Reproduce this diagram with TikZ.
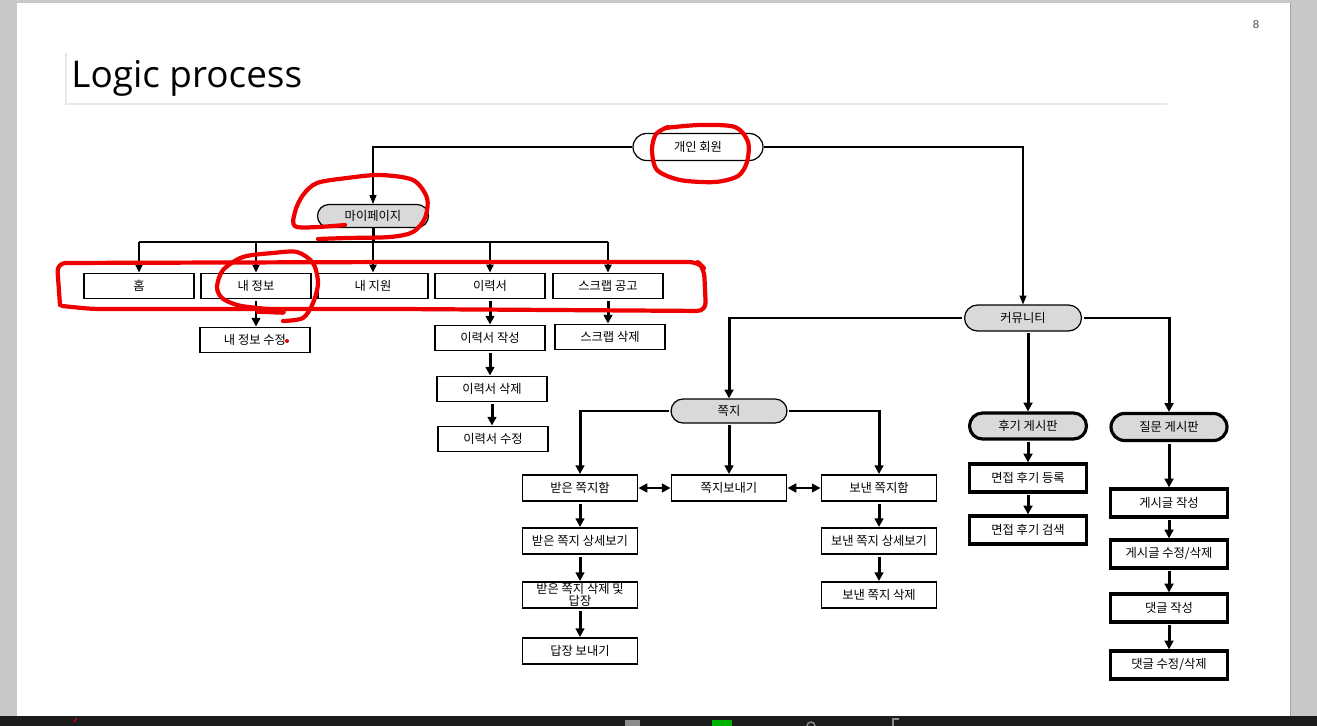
\documentclass[tikz,border=0pt]{standalone}
\usepackage{fontspec}
\newfontfamily\kr{Noto Sans CJK KR}
\newfontfamily\titlefont{Open Sans}
\newfontfamily\numfont{Liberation Sans}
\usetikzlibrary{arrows.meta,shapes.misc}
\definecolor{framegray}{RGB}{200,200,200}
\definecolor{pillgray}{RGB}{217,217,217}
\definecolor{taskbar}{RGB}{28,28,28}
\definecolor{rulegray}{RGB}{232,232,232}
\definecolor{markred}{RGB}{238,0,0}

\begin{document}
\begin{tikzpicture}
  [x=0.02cm,y=-0.02cm,
   every node/.style={font=\kr\fontsize{7}{8}\selectfont,inner sep=0pt},
   box/.style={rectangle,draw=black,line width=1.1pt,fill=white,minimum width=2.2cm,minimum height=0.5cm},
   bigbox/.style={box,line width=1.8pt,minimum width=2.34cm,minimum height=0.56cm},
   pill/.style={rounded rectangle,draw=black,line width=0.7pt,fill=pillgray,minimum width=2.32cm,minimum height=0.5cm},
   link/.style={line width=0.6pt,-{Triangle[length=5pt,width=4pt]}},
   drop/.style={line width=1.1pt,-{Triangle[length=4.5pt,width=4pt]}},
   wire/.style={line width=1.7pt,-{Triangle[length=5pt,width=5pt]},shorten <=1pt},
   dwire/.style={line width=1.7pt,{Triangle[length=5pt,width=5pt]}-{Triangle[length=5pt,width=5pt]}},
   redmark/.style={markred,line width=2.4pt,line cap=round,line join=round}]
  \useasboundingbox (0,0) rectangle (1317,726);

  % slide window
  \fill[framegray] (0,0) rectangle (1317,726);
  \fill[white] (17,3) rectangle (1290,716);
  \draw[black!35,line width=0.4pt] (1290,3) -- (1290,716);
  \draw[rulegray,line width=0.6pt] (66,53) -- (66,104) -- (1167,104);
  \node[font=\titlefont\fontsize{21}{24}\selectfont,anchor=base west] (title) at (71,88) {Logic process};
  \node[font=\numfont\fontsize{6.5}{7}\selectfont,text=black!70] (page) at (1256,25) {8};

  % taskbar
  \fill[taskbar] (0,716) rectangle (1317,726);
  \draw[markred,line width=0.6pt] (74,722) -- (77,718);
  \fill[black!45] (625,720) rectangle (640,726);
  \fill[green!70!black] (712,720) rectangle (732,726);
  \draw[black!45,line width=0.8pt] (811,726) circle (4);
  \draw[black!45,line width=0.8pt] (893,726) -- (893,719) -- (899,719);

  % tree
  \node[pill,fill=white,minimum width=2.6cm,minimum height=0.54cm] (root) at (698,147) {개인 회원};
  \node[pill,minimum width=2.22cm,minimum height=0.46cm] (mypage) at (373,216) {마이페이지};

  \node[box] (home) at (139,286) {홈};
  \node[box] (info) at (256,286) {내 정보};
  \node[box] (apply) at (373,286) {내 지원};
  \node[box] (resume) at (490,286) {이력서};
  \node[box] (scrap) at (608,286) {스크랩 공고};

  \node[box] (infoedit) at (255,340) {내 정보 수정};
  \node[box] (rwrite) at (490,338) {이력서 작성};
  \node[box] (rdel) at (492,389) {이력서 삭제};
  \node[box] (redit) at (493,439) {이력서 수정};
  \node[box] (scrapdel) at (610,337) {스크랩 삭제};

  \node[pill,minimum width=2.34cm,minimum height=0.52cm] (comm) at (1023,318) {커뮤니티};
  \node[pill,minimum height=0.48cm] (note) at (729,411) {쪽지};

  \node[box,minimum width=2.3cm,minimum height=0.52cm] (inbox) at (580,488) {받은 쪽지함};
  \node[box,minimum width=2.3cm,minimum height=0.52cm] (send) at (729,488) {쪽지보내기};
  \node[box,minimum width=2.3cm,minimum height=0.52cm] (outbox) at (879,488) {보낸 쪽지함};
  \node[box,minimum width=2.3cm,minimum height=0.52cm] (inview) at (580,541) {받은 쪽지 상세보기};
  \node[box,minimum width=2.3cm,minimum height=0.52cm,align=center,font=\kr\fontsize{7}{6.8}\selectfont] (indel) at (580,595) {받은 쪽지 삭제 및\\답장};
  \node[box,minimum width=2.3cm,minimum height=0.52cm] (reply) at (580,651) {답장 보내기};
  \node[box,minimum width=2.3cm,minimum height=0.52cm] (outview) at (879,541) {보낸 쪽지 상세보기};
  \node[box,minimum width=2.3cm,minimum height=0.52cm] (outdel) at (879,595) {보낸 쪽지 삭제};

  \node[pill,line width=1.8pt,minimum width=2.34cm,minimum height=0.52cm] (review) at (1028,426) {후기 게시판};
  \node[pill,line width=1.8pt,minimum width=2.32cm,minimum height=0.54cm] (qna) at (1169,427) {질문 게시판};
  \node[bigbox] (revadd) at (1028,478) {면접 후기 등록};
  \node[bigbox] (revfind) at (1028,530) {면접 후기 검색};
  \node[bigbox] (post) at (1169,503) {게시글 작성};
  \node[bigbox] (postedit) at (1169,554) {게시글 수정/삭제};
  \node[bigbox] (cmt) at (1169,608) {댓글 작성};
  \node[bigbox] (cmtedit) at (1169,665) {댓글 수정/삭제};

  \draw[link] (root.west) -| (mypage.north);
  \draw[link] (root.east) -| (comm.north);

  \coordinate (bus) at (373,242);
  \draw[line width=1.7pt] (mypage.south) -- (bus);
  \draw[line width=1.7pt] (home.north |- bus) -- (scrap.north |- bus);
  \foreach \n in {home,info,apply,resume,scrap}
  \draw[drop] (\n.north |- bus) -- (\n.north);

  \draw[wire] (comm.west) -| (note.north);
  \draw[wire] (comm.east) -| (qna.north);
  \draw[wire] (review.north |- comm.south) -- (review.north);
  \draw[wire] (note.west) -| (inbox.north);
  \draw[wire] (note.east) -| (outbox.north);
  \draw[wire] (note.south) -- (send.north);
  \draw[dwire] (inbox) -- (send);
  \draw[dwire] (send) -- (outbox);

  \foreach \from/\to in {info/infoedit, resume/rwrite, rwrite/rdel, rdel/redit, scrap/scrapdel,
    inbox/inview, inview/indel, indel/reply, outbox/outview, outview/outdel,
    review/revadd, revadd/revfind, qna/post, post/postedit, postedit/cmt, cmt/cmtedit}
  \draw[wire] (\from.south) -- (\from.south |- \to.north);

  % red pen marks
  \draw[redmark] plot[smooth] coordinates {(665,128) (700,125) (735,127) (748,142) (747,162) (738,176) (715,182) (680,180) (657,170) (652,150) (656,134) (668,127)};
  \draw[redmark] plot[smooth] coordinates {(345,225) (297,227) (295,212) (303,195) (317,183) (347,178) (380,175) (413,180) (427,198) (425,218) (413,232) (390,237) (347,238) (318,239)};
  \draw[redmark,rounded corners=5] (60,305) -- (57,263) -- (400,262) -- (698,262) -- (704,268) -- (706,311) -- (400,309) -- (92,309) -- (62,306);
  \draw[redmark] plot[smooth] coordinates {(283,321) (303,318) (313,303) (318,283) (313,263) (297,252) (273,253) (243,257) (223,270) (217,287) (222,298) (237,305) (257,308) (280,310)};
  \draw[redmark,line width=3.2pt] (258,311) -- (283,312);
  \fill[markred] (287,341) circle (2);
\end{tikzpicture}
\end{document}
